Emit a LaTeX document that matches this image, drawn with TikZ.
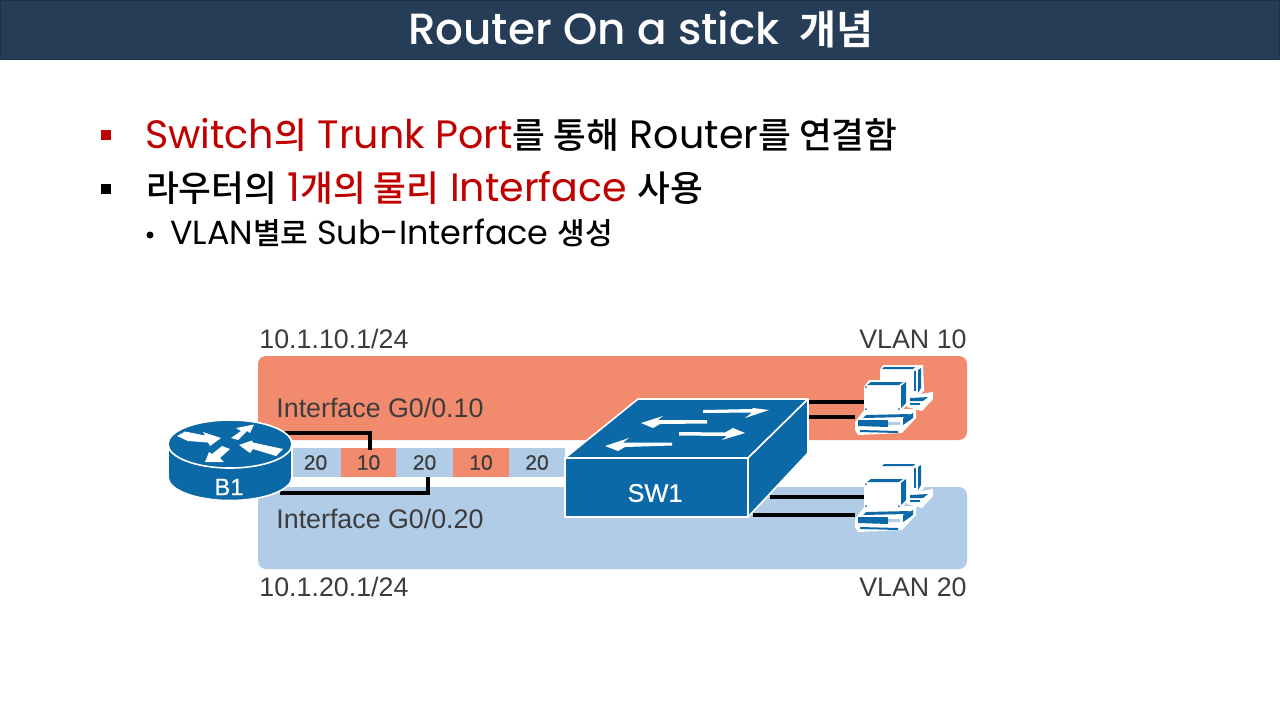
\documentclass[tikz,border=0pt]{standalone}
\usepackage{fontspec}
\setmainfont{Poppins}
\newfontfamily\tfont{Poppins Medium}
\newfontfamily\ko[Scale=0.9]{Noto Sans CJK KR Medium}
\newfontfamily\kob[Scale=0.92]{Noto Sans CJK KR Bold}
\newfontfamily\helv{Liberation Sans}
\newfontfamily\helvm[FakeBold=0.5]{Liberation Sans}
\definecolor{barc}{HTML}{253D56}
\definecolor{bard}{HTML}{17324A}
\definecolor{redc}{HTML}{C00000}
\definecolor{orc}{HTML}{F28B6E}
\definecolor{blc}{HTML}{B1CCE6}
\definecolor{dev}{HTML}{0B69A8}
\definecolor{lab}{HTML}{3C3C3C}
\tikzset{
 x=0.5pt,y=-0.5pt,
 txt/.style={anchor=base west,inner sep=0pt,outer sep=0pt},
 body/.style={txt,font=\fontsize{19.8}{22}\selectfont},
 sub/.style={txt,font=\fontsize{16.7}{20}\selectfont},
 dlab/.style={anchor=base west,inner sep=0pt,font=\helv\fontsize{13.4}{16}\selectfont,text=lab},
 dlabr/.style={dlab,anchor=base east},
 seg/.style={anchor=north west,minimum height=14.5pt,inner sep=0pt,outer sep=0pt,font=\helvm\fontsize{10.5}{12}\selectfont,text=lab},
 wire/.style={draw=black,line width=1.7pt},
 devedge/.style={draw=white,line width=0.8pt,line join=round},
 tip/.style={fill=white,draw=none},
}
\newcommand{\pcpic}[2]{%
 \begin{scope}[shift={(#1,#2)}]
  % back base
  \fill[white] (42,13) -- (68,9) -- (68,16) -- (57,28) -- (42,24) -- cycle;
  \fill[dev] (45,15) -- (63,14) -- (58,18) -- (45,18) -- cycle;
  \fill[dev] (45,20) -- (55,20) -- (55,22) -- (45,22) -- cycle;
  % back monitor
  \fill[white] (15,-13) -- (18,-18) -- (58,-18) -- (59,8) -- (52,14) -- (15,14) -- cycle;
  \fill[dev] (19,-16) -- (50,-16) -- (48,-14) -- (17,-14) -- cycle;
  \fill[dev] (53,-13) -- (56,-15) -- (56,5) -- (53,10) -- cycle;
  \fill[dev] (49,-12) rectangle (51,8);
  % front base
  \fill[white] (-10,39) -- (0,26) -- (51,26) -- (51,35) -- (37,50) -- (-7,52) -- (-10,47) -- cycle;
  \fill[dev] (1,32) -- (45,31) -- (41,34) -- (-2,35) -- cycle;
  \fill[dev] (-7,37) -- (23,37) -- (23,44) -- (-7,43) -- cycle;
  \fill[blc] (23,38.5) -- (35,38.5) -- (35,41.5) -- (23,41.5) -- cycle;
  \fill[dev] (38,35) -- (48,30) -- (48,35) -- (38,42) -- cycle;
  \fill[dev] (-5,47) -- (33,48) -- (33,50) -- (-5,49) -- cycle;
  % front monitor
  \fill[white] (-1,4) -- (4,-3) -- (43,-3) -- (43,21) -- (35,29) -- (-1,29) -- cycle;
  \fill[dev] (6,-1) -- (38,-1) -- (34,2) -- (2,2) -- cycle;
  \fill[dev] (36,3) -- (41,-1) -- (41,20) -- (36,25) -- cycle;
  \fill[dev] (1,4) circle (1);
  \fill[dev] (1,26) circle (1);
  \fill[dev] (34,26) circle (1);
 \end{scope}}
\begin{document}
\begin{tikzpicture}
\useasboundingbox (0,0) rectangle (1280,720);
\fill[white] (0,0) rectangle (1280,720);
% title
\filldraw[fill=barc,draw=bard,line width=.7pt] (0.5,0.5) rectangle (1279.5,59.5);
\node[txt,text=white,font=\tfont\fontsize{21.85}{26}\selectfont] (title) at (408,44) {Router On a stick\hspace{.45em}{\kob 개념}};
% bullets
\fill[redc] (101,130) rectangle (111,140);
\fill[black] (101,184) rectangle (111,194);
\fill[black] (150,235) circle (3.5);
\node[body] (l1) at (145,148) {\textcolor{redc}{Switch{\ko 의} Trunk Port}{\ko 를 통해} Router{\ko 를 연결함}};
\node[body] (l2) at (146,201) {{\ko 라우터의} \textcolor{redc}{1{\ko 개의 물리} Interface} {\ko 사용}};
\node[sub] (l3) at (170,244) {VLAN{\ko 별로} Sub-Interface {\ko 생성}};
% VLAN bands
\fill[orc,rounded corners=4pt] (258,356) rectangle (967,440);
\fill[blc,rounded corners=4pt] (258,487) rectangle (967,569);
% trunk strip
\node[seg,fill=blc,minimum width=25.5pt] (s1) at (290,448) {20};
\node[seg,fill=orc,minimum width=27.5pt] (s2) at (341,448) {10};
\node[seg,fill=blc,minimum width=28.5pt] (s3) at (396,448) {20};
\node[seg,fill=orc,minimum width=28pt] (s4) at (453,448) {10};
\node[seg,fill=blc,minimum width=28pt] (s5) at (509,448) {20};
% labels
\node[dlab] (ip1) at (259,348) {10.1.10.1/24};
\node[dlab] (ip2) at (259,596) {10.1.20.1/24};
\node[dlabr] (v1) at (967,348) {VLAN 10};
\node[dlabr] (v2) at (967,596) {VLAN 20};
\node[dlab] (if1) at (276,417) {Interface G0/0.10};
\node[dlab] (if2) at (276,528) {Interface G0/0.20};
% router wires
\coordinate (r1) at (285,433);
\coordinate (r2) at (280,493);
\coordinate (t1) at (370,450);
\coordinate (t2) at (428,477);
\draw[wire] (r1) -| (t1);
\draw[wire] (r2) -| (t2);
% router
\filldraw[fill=dev,devedge] (168,444) -- (168,477) arc[start angle=180,end angle=0,x radius=62,y radius=23.5] -- (292,444) arc[start angle=0,end angle=180,x radius=62,y radius=23.5] -- cycle;
\filldraw[fill=dev,devedge] (230,444) ellipse[x radius=62,y radius=24];
\fill[white] (177,436) -- (185,431.5) -- (205,435.5) -- (203,432) -- (221,438) -- (210,446) -- (208,442.5) -- (188,441) -- cycle;
\fill[white] (231,438) -- (241,431) -- (236,428) -- (254,424.5) -- (250,433) -- (247,431) -- (238,440) -- cycle;
\fill[white] (239,445) -- (252,440.5) -- (253,442.5) -- (283,449) -- (276,456) -- (253,449) -- (250,453) -- cycle;
\fill[white] (205,462) -- (209,452) -- (212,454) -- (222,446) -- (230,449) -- (220,458) -- (224,462) -- cycle;
\node[font=\helvm\fontsize{11.8}{15}\selectfont,text=white,inner sep=0pt] (b1) at (229,487) {B1};
% PCs
\pcpic{865}{383}
\pcpic{865}{480}
% PC wires
\coordinate (swa) at (808,402);\coordinate (pca) at (864,402);
\coordinate (swb) at (803,417);\coordinate (pcb) at (855,417);
\coordinate (swc) at (770,497);\coordinate (pcc) at (864,497);
\coordinate (swd) at (753,515);\coordinate (pcd) at (855,515);
\draw[wire] (swa) -- (pca);
\draw[wire] (swb) -- (pcb);
\draw[wire] (swc) -- (pcc);
\draw[wire] (swd) -- (pcd);
% switch
\filldraw[fill=dev,devedge] (565,458) -- (638,399) -- (808,399) -- (748,458) -- cycle;
\filldraw[fill=dev,devedge] (748,458) -- (808,399) -- (808,453) -- (748,517) -- cycle;
\filldraw[fill=dev,devedge] (565,458) rectangle (748,517);
\fill[tip] (703,410) -- (752,409) -- (753,408) -- (769,410) -- (745,418) -- (752,412.5) -- (703,413) -- cycle;
\fill[tip] (641,423) -- (663,416) -- (658,420) -- (707,420) -- (707,423.5) -- (660,424) -- (653,428) -- cycle;
\fill[tip] (679,432) -- (725,432.5) -- (733,428) -- (745,433) -- (722,440) -- (727,436) -- (679,435.5) -- cycle;
\fill[tip] (605,446) -- (629,438) -- (623,442.5) -- (672,442.5) -- (672,445.5) -- (625,447) -- (618,451) -- cycle;
\node[font=\helvm\fontsize{12.7}{15}\selectfont,text=white,inner sep=0pt] (sw) at (655,493) {SW1};
\end{tikzpicture}
\end{document}
